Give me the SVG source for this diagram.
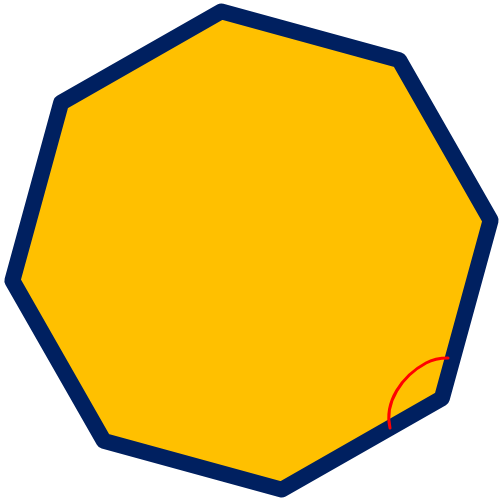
<svg xmlns="http://www.w3.org/2000/svg" width="500" height="504" viewBox="0 0 500 504">
<style>
.oct{fill:#FFC000;stroke:#002060;stroke-width:16;stroke-linejoin:round}
.arc{fill:none;stroke:#FF0000;stroke-width:3;stroke-linecap:round}
</style>
<rect width="500" height="504" fill="#FFFFFF"/>
<g id="octagon">
<polygon class="oct" points="221.3,11.4 399.2,60.1 490.6,220.3 441.9,398.2 281.7,489.6 103.8,440.9 12.4,280.7 61.1,102.8"/>
</g>
<g id="connectors">
<path class="arc" d="M390,428 C384,402 402,376 426,363 C435,358 442,358 448,358"/>
</g>
</svg>
